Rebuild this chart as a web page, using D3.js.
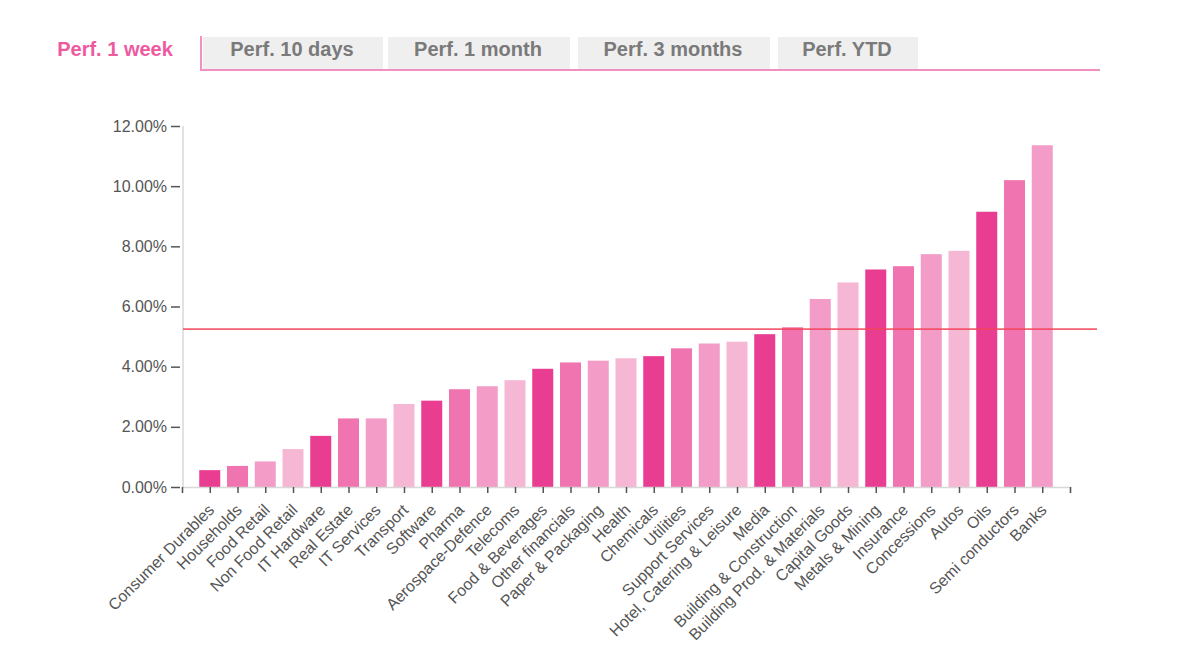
<!DOCTYPE html>
<html>
<head>
<meta charset="utf-8">
<script src="https://cdn.jsdelivr.net/npm/d3@7"></script>
<style>
  html, body { margin: 0; padding: 0; background: #ffffff; }
  svg { display: block; font-family: "Liberation Sans", Arial, sans-serif; }
</style>
</head>
<body>
<svg id="chart" width="1200" height="667"></svg>
<script>
const tabs = ["Perf. 1 week", "Perf. 10 days", "Perf. 1 month", "Perf. 3 months", "Perf. YTD"];
const categories = [
  "Consumer Durables", "Households", "Food Retail", "Non Food Retail", "IT Hardware",
  "Real Estate", "IT Services", "Transport", "Software", "Pharma",
  "Aerospace-Defence", "Telecoms", "Food & Beverages", "Other financials", "Paper & Packaging",
  "Health", "Chemicals", "Utilities", "Support Services", "Hotel, Catering & Leisure",
  "Media", "Building & Construction", "Building Prod. & Materials", "Capital Goods", "Metals & Mining",
  "Insurance", "Concessions", "Autos", "Oils", "Semi conductors", "Banks"
];
const values = [
  0.56, 0.70, 0.85, 1.26, 1.70,
  2.28, 2.28, 2.76, 2.87, 3.25,
  3.35, 3.55, 3.93, 4.14, 4.20,
  4.28, 4.35, 4.61, 4.77, 4.83,
  5.08, 5.31, 6.25, 6.80, 7.23,
  7.34, 7.74, 7.85, 9.15, 10.20, 11.36
];
const average = 5.25;
const yTicks = [0, 2, 4, 6, 8, 10, 12];
const palette = ["#e93d92", "#ef74af", "#f29cc7", "#f6b7d5"];

const svg = d3.select("#chart");

// ---- Tabs ----
const tabX = d3.scaleOrdinal().domain(tabs).range([0, 203, 388, 578, 778]);
const tabW = d3.scaleOrdinal().domain(tabs).range([0, 180, 182, 192, 140]);
const tg = svg.append("g");
tg.selectAll("rect.tab").data(tabs.slice(1)).enter().append("rect")
  .attr("class", "tab")
  .attr("x", d => tabX(d)).attr("y", 37)
  .attr("width", d => tabW(d)).attr("height", 33)
  .attr("fill", "#efefef");
tg.selectAll("text.tab").data(tabs).enter().append("text")
  .attr("x", (d, i) => i === 0 ? 115 : tabX(d) + tabW(d) / 2 - 1)
  .attr("y", 56)
  .attr("text-anchor", "middle")
  .attr("font-size", 20)
  .attr("font-weight", "bold")
  .attr("fill", (d, i) => i === 0 ? "#ee5a9f" : "#7a7a7a")
  .text(d => d);
tg.append("path")
  .attr("d", "M201,36 V70 H1100")
  .attr("fill", "none")
  .attr("stroke", "#f290c2")
  .attr("stroke-width", 2);

// ---- Scales ----
const x = d3.scalePoint()
  .domain(["__start", ...categories, "__end"])
  .range([182, 1070]);
const y = d3.scaleLinear().domain([0, 12]).range([487, 126]);
const barW = 21;

// ---- Y axis ----
const yAxis = svg.append("g")
  .attr("transform", "translate(183,0)")
  .call(d3.axisLeft(y).tickValues(yTicks).tickFormat(d => d.toFixed(2) + "%").tickSize(12).tickPadding(4));
yAxis.select(".domain").attr("stroke", "#d8d8d8").attr("stroke-width", 1.5).attr("d", "M0,126 V487");
yAxis.selectAll(".tick line").attr("stroke", "#555").attr("stroke-width", 1.5).attr("x1", -3);
yAxis.selectAll(".tick text").attr("font-size", 16).attr("fill", "#555")
  .attr("font-family", "'Liberation Sans', Arial, sans-serif");

// ---- Bars ----
svg.append("g").selectAll("rect").data(categories).enter().append("rect")
  .attr("x", d => x(d) - barW / 2)
  .attr("y", (d, i) => y(values[i]))
  .attr("width", barW)
  .attr("height", (d, i) => y(0) - y(values[i]))
  .attr("fill", (d, i) => palette[i % 4]);

// ---- X axis ----
const xAxis = svg.append("g")
  .attr("transform", "translate(0,487)")
  .call(d3.axisBottom(x).tickSize(6).tickPadding(4)
    .tickFormat(d => d.startsWith("__") ? "" : d));
xAxis.select(".domain").attr("stroke", "#d8d8d8").attr("stroke-width", 1.5);
xAxis.selectAll(".tick line").attr("stroke", "#555").attr("stroke-width", 1.5);
xAxis.selectAll(".tick text")
  .attr("font-size", 16)
  .attr("fill", "#555")
  .attr("font-family", "'Liberation Sans', Arial, sans-serif")
  .attr("text-anchor", "end")
  .attr("x", 0).attr("y", 0)
  .attr("dy", 0)
  .attr("transform", "translate(5,24) rotate(-45)");

// ---- Average line ----
svg.append("line")
  .attr("x1", 183).attr("x2", 1097)
  .attr("y1", y(average)).attr("y2", y(average))
  .attr("stroke", "#f4455a")
  .attr("stroke-width", 1.8)
  .attr("opacity", 0.85);
</script>
</body>
</html>
